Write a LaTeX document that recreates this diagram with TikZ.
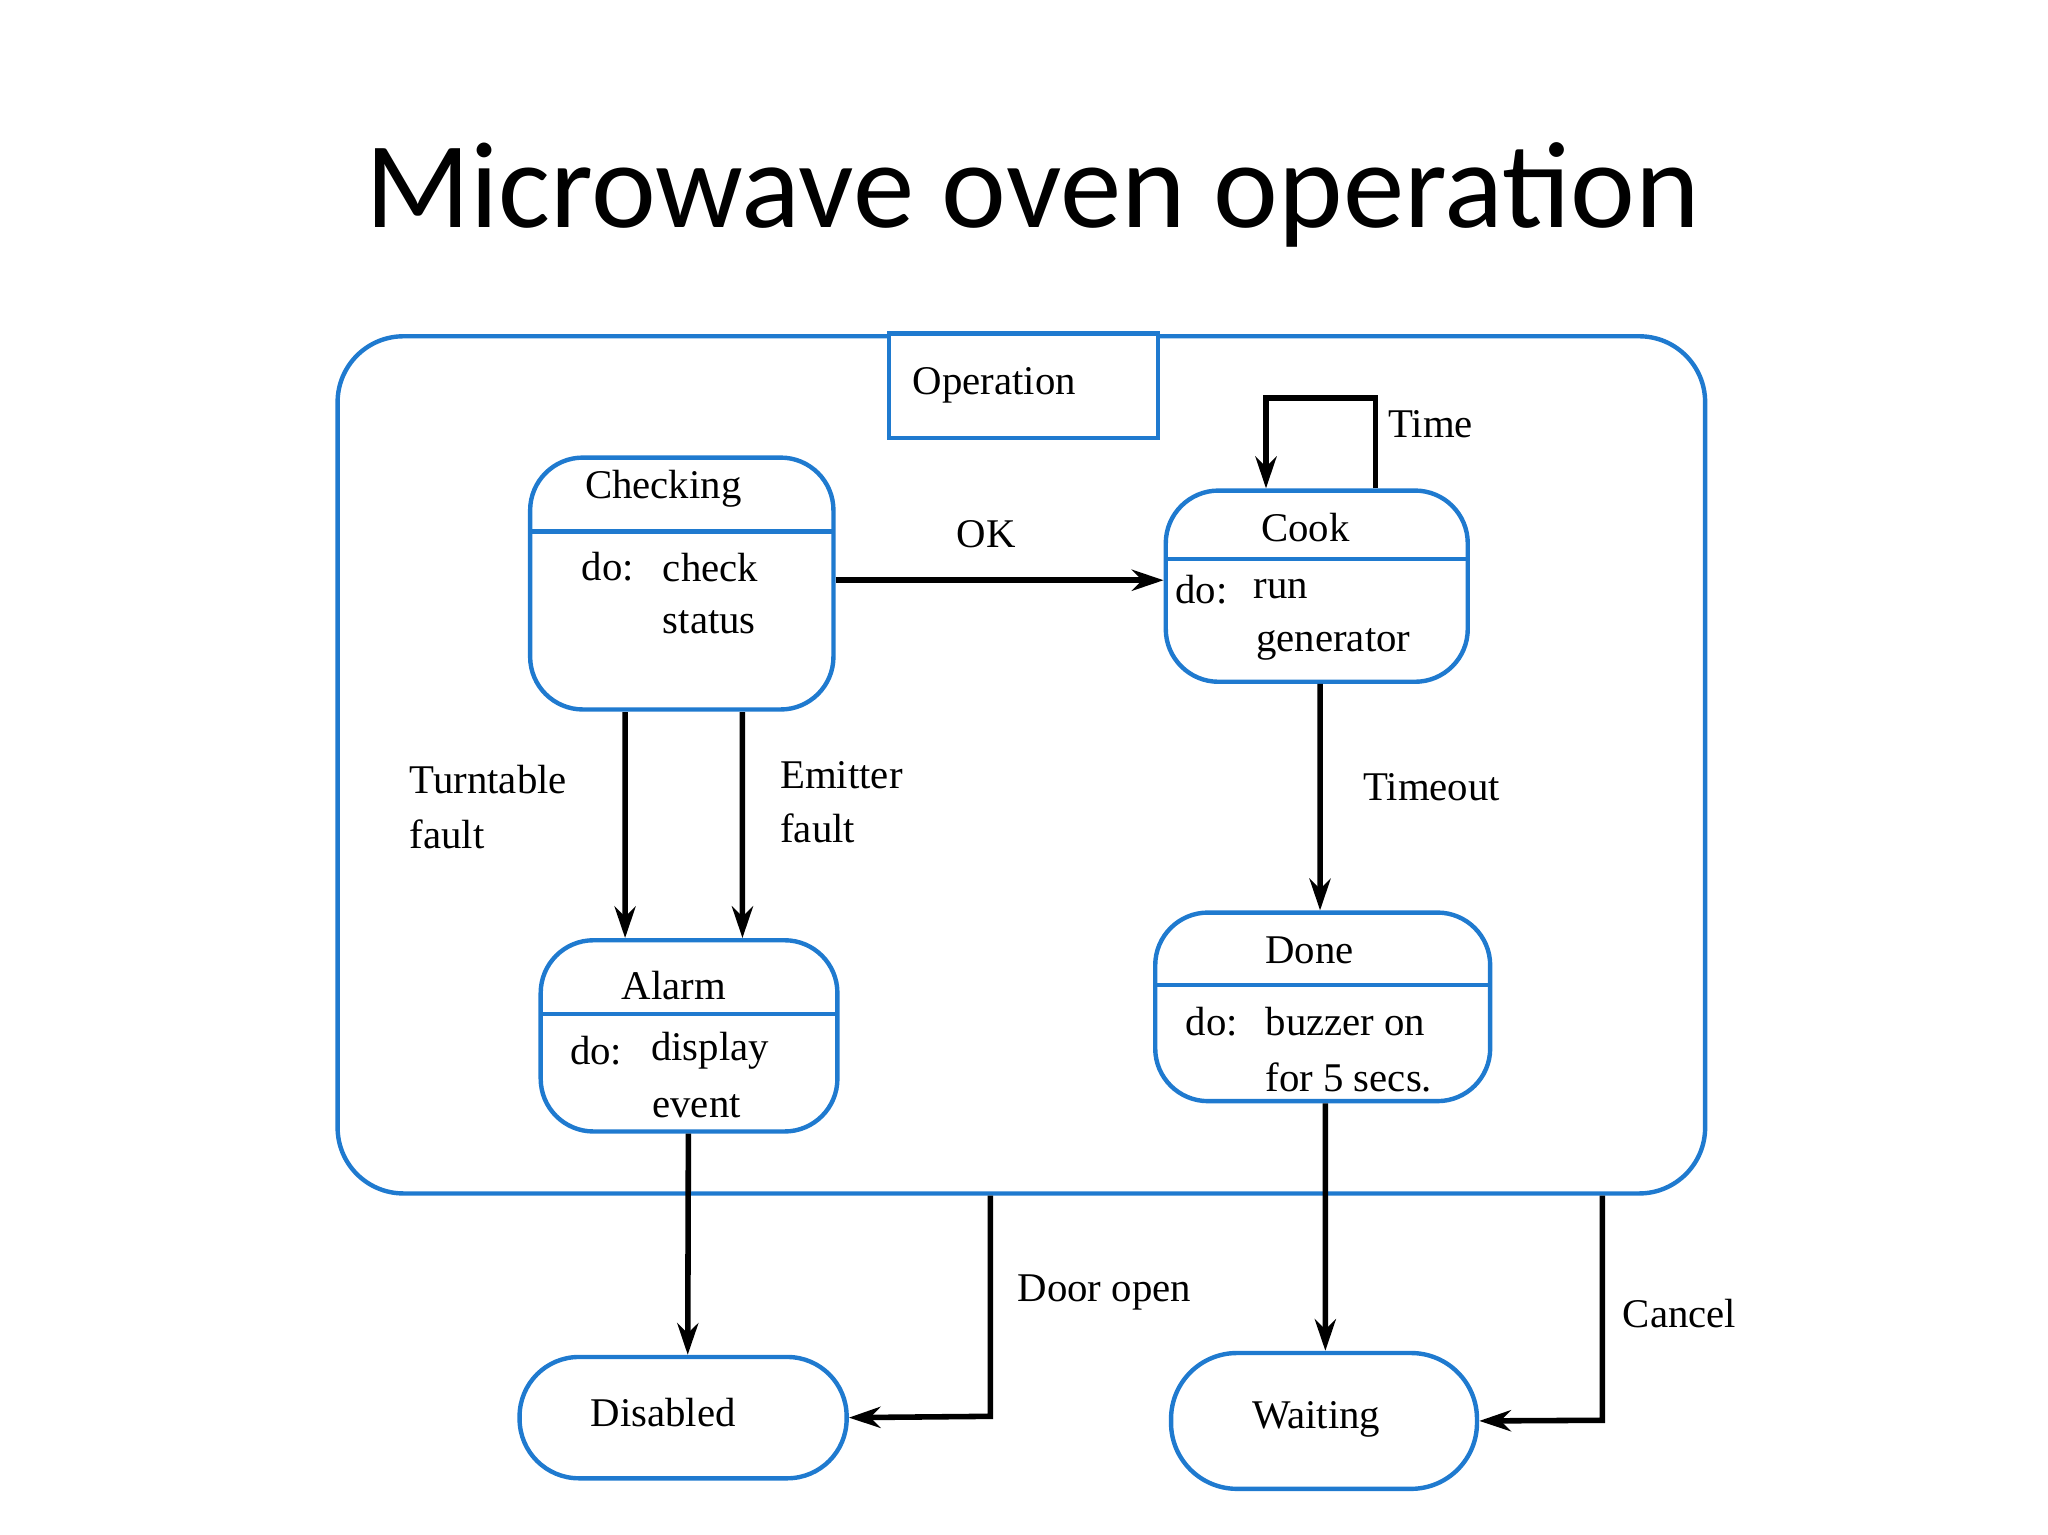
\documentclass[tikz,border=0pt]{standalone}
\usepackage{fontspec}
\setmainfont{Liberation Serif}
\newfontfamily\titlefont{Carlito}
\usetikzlibrary{arrows.meta,calc}
\definecolor{umlblue}{HTML}{1F7ACF}
\begin{document}
\begin{tikzpicture}[y=-1cm,
  bx/.style={draw=umlblue,line width=0.95pt,rounded corners=0.4cm,inner sep=0pt},
  sq/.style={draw=umlblue,line width=0.95pt,inner sep=0pt},
  dv/.style={draw=umlblue,line width=0.95pt},
  tr/.style={draw=black,line width=1.2pt,-{Stealth[length=0.24cm,width=0.16cm]}},
  tx/.style={font=\fontsize{8.8}{10}\selectfont,inner sep=0pt},
  txl/.style={tx,anchor=west}]
\useasboundingbox (0,0) rectangle (15.53,11.64);
\node[font=\titlefont\fontsize{26.5}{30}\selectfont,inner sep=0pt] (title) at (7.83,1.48) {Microwave oven operation};
% outer
\node[bx,rounded corners=0.5cm,minimum width=10.37cm,minimum height=6.5cm] (op) at (7.745,5.8) {};
\node[sq,fill=white,minimum width=2.04cm,minimum height=0.79cm] (opl) at (7.76,2.925) {};
\node[tx] at (7.54,2.92) {Operation};
% Checking
\node[bx,minimum width=2.3cm,minimum height=1.91cm] (chk) at (5.17,4.425) {};
\draw[dv] (4.02,4.03) -- (6.32,4.03);
\node[tx] at (5.03,3.71) {Checking};
\node[tx] at (4.61,4.30) {do:};
\node[txl] at (5.02,4.30) {check};
\node[txl] at (5.02,4.72) {status};
% Cook
\node[bx,minimum width=2.29cm,minimum height=1.45cm] (cook) at (9.985,4.445) {};
\draw[dv] (8.84,4.24) -- (11.13,4.24);
\node[tx] at (9.90,4.00) {Cook};
\node[tx] at (9.11,4.47) {do:};
\node[txl] at (9.50,4.47) {run};
\node[txl] at (9.52,4.89) {generator};
% Alarm
\node[bx,minimum width=2.25cm,minimum height=1.45cm] (alm) at (5.225,7.855) {};
\draw[dv] (4.10,7.69) -- (6.35,7.69);
\node[tx] at (5.11,7.47) {Alarm};
\node[tx] at (4.52,7.97) {do:};
\node[txl] at (4.93,7.97) {display};
\node[txl] at (4.94,8.39) {event};
% Done
\node[bx,minimum width=2.54cm,minimum height=1.43cm] (done) at (10.03,7.635) {};
\draw[dv] (8.76,7.47) -- (11.30,7.47);
\node[tx] at (9.93,7.21) {Done};
\node[tx] at (9.19,7.75) {do:};
\node[txl] at (9.59,7.75) {buzzer on};
\node[txl] at (9.59,8.17) {for 5 secs.};
% Disabled / Waiting
\node[bx,rounded corners=0.45cm,minimum width=2.48cm,minimum height=0.92cm] (dis) at (5.18,10.75) {};
\node[tx] at (5.03,10.71) {Disabled};
\node[bx,rounded corners=0.5cm,minimum width=2.32cm,minimum height=1.03cm] (wait) at (10.04,10.775) {};
\node[tx] at (9.98,10.76) {Waiting};
% transitions
\draw[tr] (chk.east |- 0,4.40) -- (cook.west |- 0,4.40);
\node[tx] at (7.48,4.05) {OK};
\coordinate (t1) at (10.43,3.02);
\coordinate (t2) at (9.60,3.02);
\draw[tr] (cook.north -| t1) -- (t1) -- (t2) -- (cook.north -| t2);
\node[txl] at (10.52,3.22) {Time};
\draw[tr] (4.74,5.40) -- ([xshift=-0.485cm]alm.north);
\draw[tr] (5.63,5.40) -- ([xshift=0.405cm]alm.north);
\node[txl] at (3.10,5.91) {Turntable};
\node[txl] at (3.10,6.33) {fault};
\node[txl] at (5.91,5.88) {Emitter};
\node[txl] at (5.91,6.28) {fault};
\draw[tr] ([xshift=0.025cm]cook.south) -- ([xshift=-0.02cm]done.north);
\node[txl] at (10.33,5.97) {Timeout};
\draw[tr] ([xshift=-0.005cm]alm.south) -- ([xshift=0.035cm]dis.north);
\draw[tr] ([xshift=0.02cm]done.south) -- ([xshift=0.01cm]wait.north);
\coordinate (d1) at (7.51,10.74);
\draw[tr] (op.south -| d1) -- (d1) -- (dis.east);
\node[txl] at (7.71,9.80) {Door open};
\coordinate (c1) at (12.15,10.77);
\draw[tr] (op.south -| c1) -- (c1) -- (wait.east);
\node[txl] at (12.30,9.96) {Cancel};
\end{tikzpicture}
\end{document}
